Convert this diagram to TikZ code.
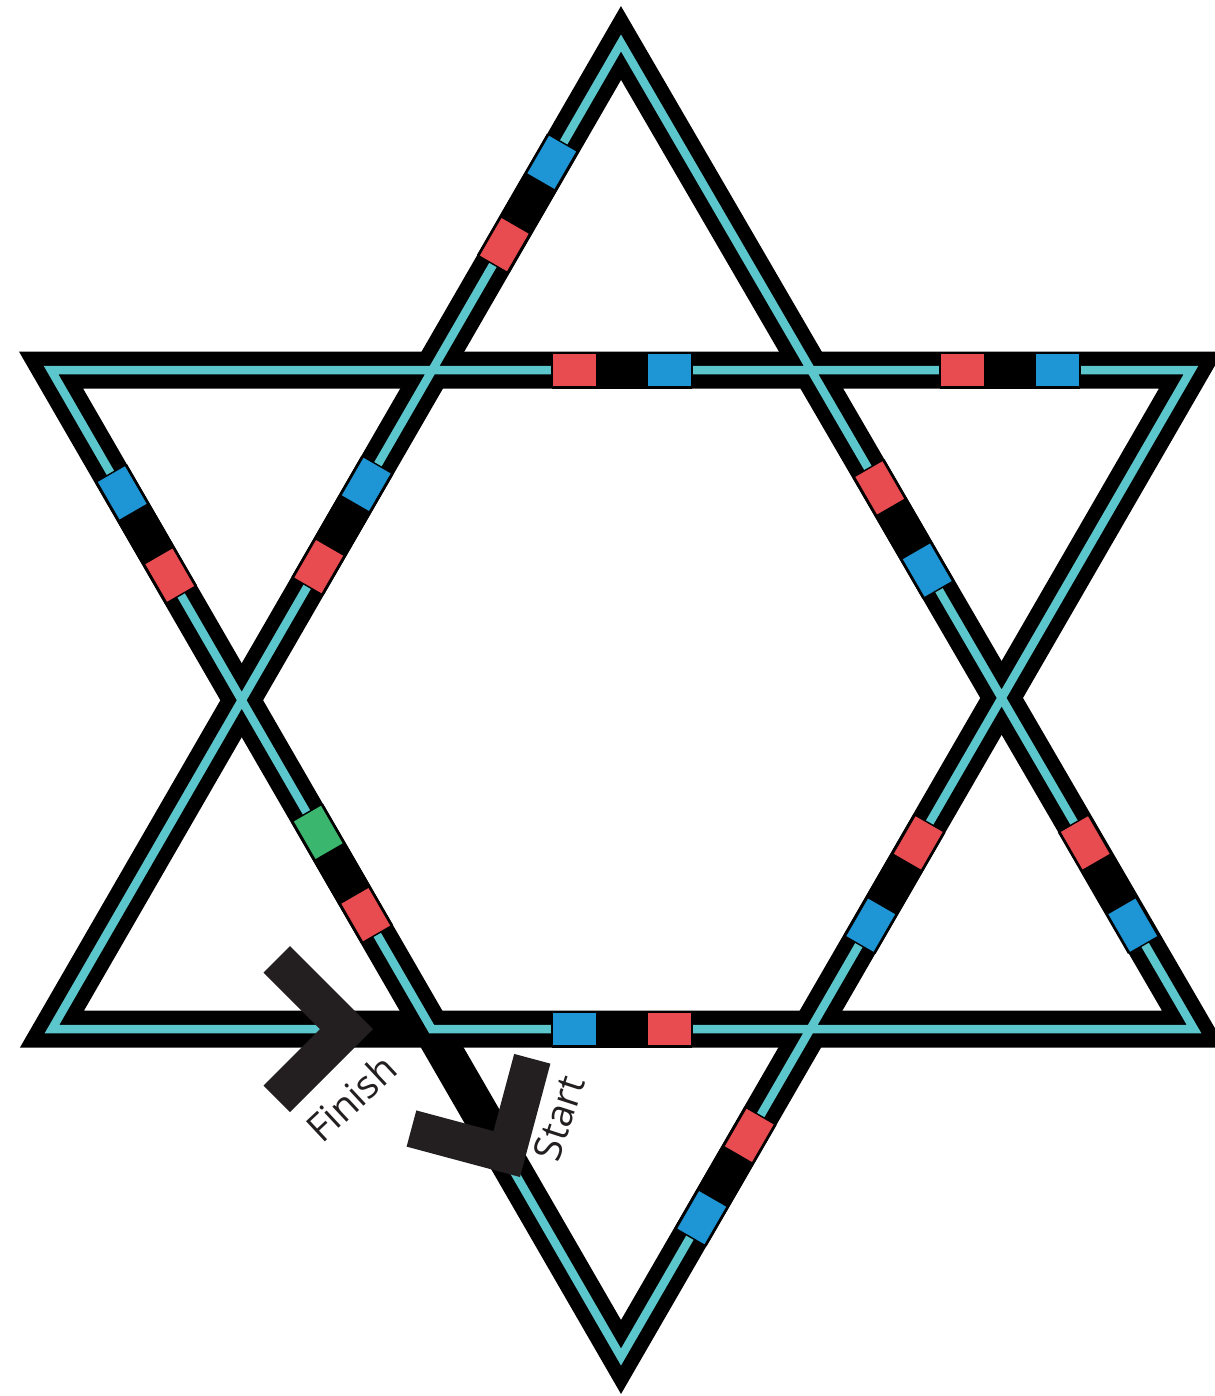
\documentclass[tikz,border=0pt]{standalone}
\usepackage{fontspec}
\newfontfamily\trackfont{Open Sans}
\definecolor{lanecyan}{HTML}{5BC6CC}
\definecolor{gatered}{HTML}{E84B50}
\definecolor{gateblue}{HTML}{1E96D5}
\definecolor{gategreen}{HTML}{3AB66E}
\definecolor{markdark}{HTML}{231F20}
\begin{document}
\begin{tikzpicture}[x=0.02cm,y=-0.02cm,
  band/.style={black,line width=0.74cm,line join=miter},
  lane/.style={lanecyan,line width=0.17cm,line join=miter},
  sqedge/.style={draw=black,line width=0.8pt},
  marklabel/.style={markdark,font=\trackfont\fontsize{22}{26}\selectfont,inner sep=0pt},
  pics/gate/.style 2 args={code={
    \fill[black] (-70,-18.5) rectangle (70,18.5);
    \filldraw[sqedge,fill=#1] (-70,-16.5) rectangle (-25,16.5);
    \filldraw[sqedge,fill=#2] (25,-16.5) rectangle (70,16.5);
  }},
  pics/chevron/.style={code={
    \fill[markdark] (0,0) -- (-83,-83) -- (-109.5,-56.5) -- (-53,0) -- (-109.5,56.5) -- (-83,83) -- cycle;
  }}]
\useasboundingbox (0,0) rectangle (1214,1396);
% --- corners of the two triangles (centre line of the road) ---
\coordinate (up-top) at (621,43);
\coordinate (up-left) at (52,1029);
\coordinate (up-right) at (1194,1029);
\coordinate (dn-left) at (51,370);
\coordinate (dn-right) at (1191,370);
\coordinate (dn-bot) at (621,1357);
\coordinate (cross) at (431.6,1029);      % lane turns here
\coordinate (start-lane) at (501.5,1150);
\coordinate (finish-lane) at (345,1029);
% --- black road ---
\draw[band] (up-top) -- (up-right) -- (up-left) -- cycle;
\draw[band] (dn-left) -- (dn-right) -- (dn-bot) -- cycle;
% --- cyan lane, one run from start to finish ---
\draw[lane] (start-lane) -- (dn-bot) -- (dn-right) -- (dn-left) -- (cross)
  -- (up-right) -- (up-top) -- (up-left) -- (finish-lane);
% --- gates ---
\pic[rotate=60] at (528,203.5) {gate={gatered}{gateblue}};
\pic at (622,370) {gate={gatered}{gateblue}};
\pic at (1010,370) {gate={gatered}{gateblue}};
\pic[rotate=-60] at (146,534) {gate={gateblue}{gatered}};
\pic[rotate=60] at (342.5,525.5) {gate={gatered}{gateblue}};
\pic[rotate=-60] at (903.5,529) {gate={gatered}{gateblue}};
\pic[rotate=-60] at (342,873.5) {gate={gategreen}{gatered}};
\pic[rotate=60] at (894.5,884) {gate={gateblue}{gatered}};
\pic[rotate=-60] at (1109,884) {gate={gatered}{gateblue}};
\pic at (622,1029) {gate={gateblue}{gatered}};
\pic[rotate=60] at (725.5,1176.5) {gate={gateblue}{gatered}};
% --- start / finish marks ---
\pic at (373,1029) {chevron};
\pic[rotate=-60] at (520,1177) {chevron};
\node[marklabel,rotate=43] (finish) at (351,1098) {Finish};
\node[marklabel,rotate=72] (start) at (559,1118) {Start};
\end{tikzpicture}
\end{document}
